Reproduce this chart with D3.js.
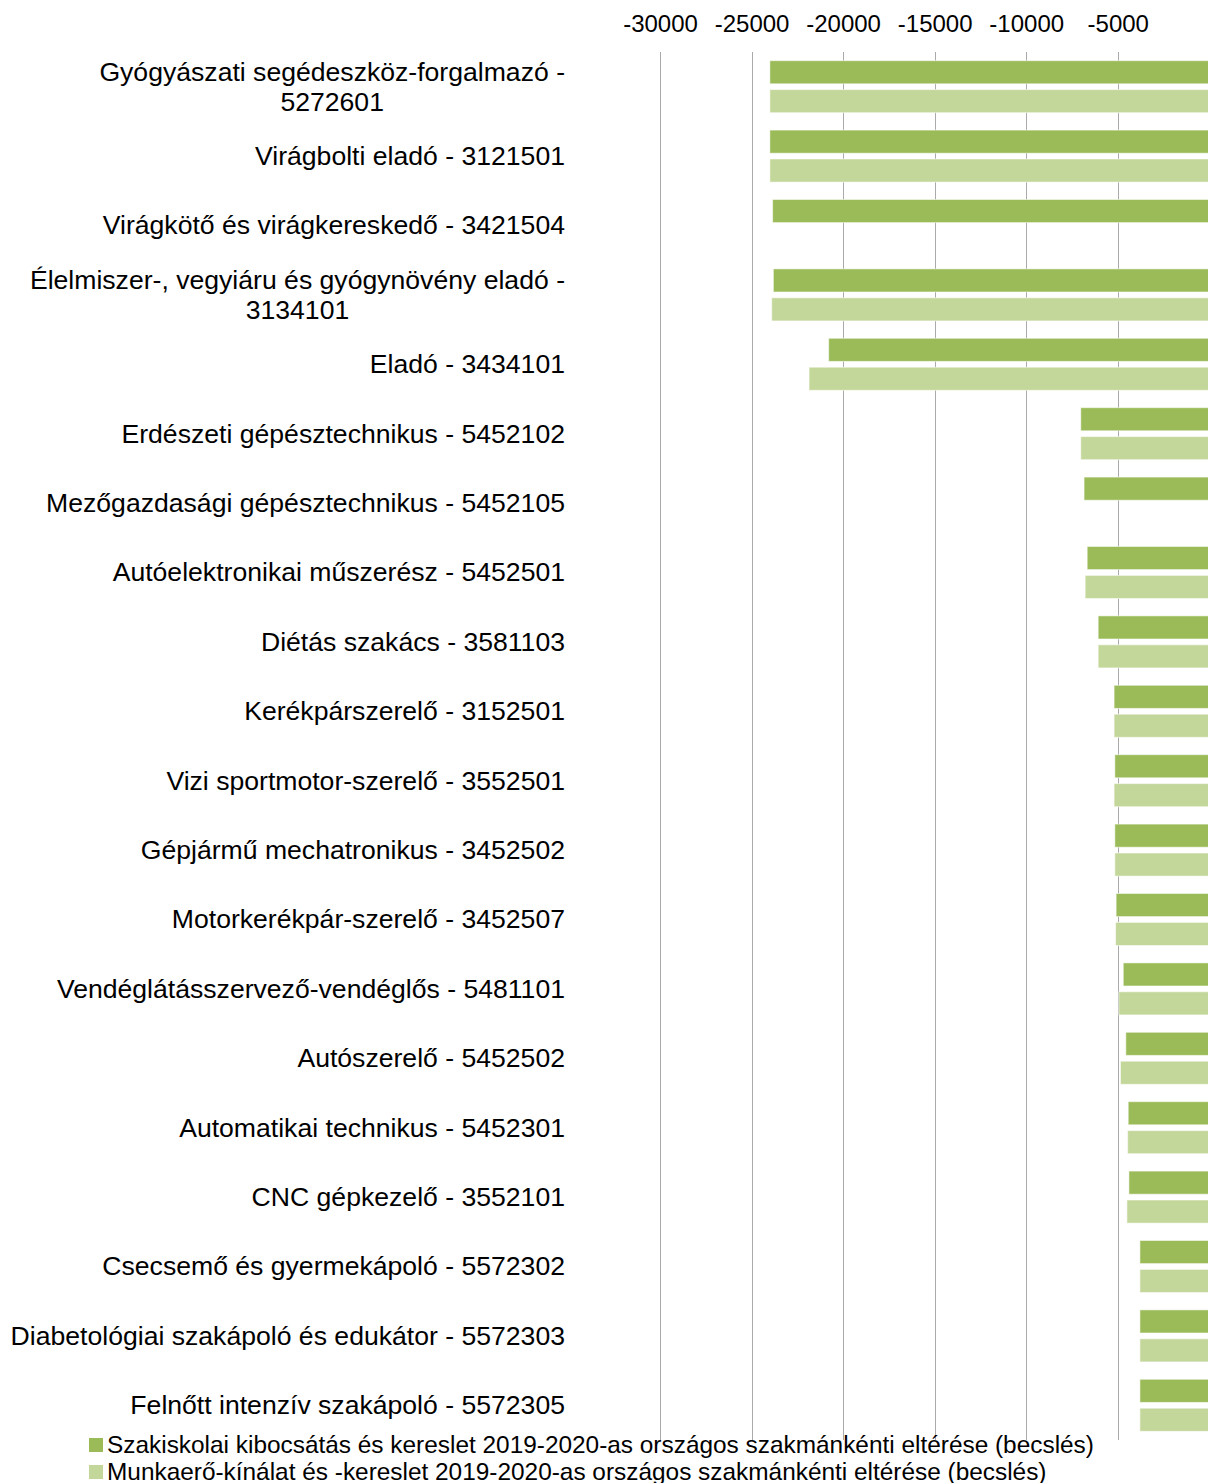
<!DOCTYPE html>
<html>
<head>
<meta charset="utf-8">
<script src="https://cdn.jsdelivr.net/npm/d3@7"></script>
<style>
  body { margin: 0; background: #fff; }
  text { font-family: "Liberation Sans", Arial, sans-serif; fill: #000; }
</style>
</head>
<body>
<div id="chart"></div>
<script>
var categories = [
  "Gyógyászati segédeszköz-forgalmazó - 5272601",
  "Virágbolti eladó - 3121501",
  "Virágkötő és virágkereskedő - 3421504",
  "Élelmiszer-, vegyiáru és gyógynövény eladó - 3134101",
  "Eladó - 3434101",
  "Erdészeti gépésztechnikus - 5452102",
  "Mezőgazdasági gépésztechnikus - 5452105",
  "Autóelektronikai műszerész - 5452501",
  "Diétás szakács - 3581103",
  "Kerékpárszerelő - 3152501",
  "Vizi sportmotor-szerelő - 3552501",
  "Gépjármű mechatronikus - 3452502",
  "Motorkerékpár-szerelő - 3452507",
  "Vendéglátásszervező-vendéglős - 5481101",
  "Autószerelő - 5452502",
  "Automatikai technikus - 5452301",
  "CNC gépkezelő - 3552101",
  "Csecsemő és gyermekápoló - 5572302",
  "Diabetológiai szakápoló és edukátor - 5572303",
  "Felnőtt intenzív szakápoló - 5572305"
];

// Szakiskolai kibocsátás és kereslet eltérése
var schoolGap = [-24000, -24000, -23850, -23810, -20790, -7020, -6840, -6670, -6070,
  -5200, -5160, -5160, -5090, -4700, -4560, -4430, -4390, -3790, -3790, -3790];
// Munkaerő-kínálat és -kereslet eltérése
var labourGap = [-24000, -24000, null, -23900, -21860, -7020, null, -6780, -6070,
  -5200, -5200, -5160, -5120, -4940, -4850, -4460, -4500, -3790, -3790, -3790];

var seriesNames = [
  "Szakiskolai kibocsátás és kereslet 2019-2020-as országos szakmánkénti eltérése (becslés)",
  "Munkaerő-kínálat és -kereslet 2019-2020-as országos szakmánkénti eltérése (becslés)"
];
var seriesColors = ["#9bbb59", "#c4d79b"];
var xTicks = [-30000, -25000, -20000, -15000, -10000, -5000];

var width = 1208, height = 1483;
var plotTop = 52, plotBottom = 1440;

var svg = d3.select("#chart").append("svg")
            .attr("width", width)
            .attr("height", height);

var x = d3.scaleLinear()
          .domain([-30000, 0])
          .range([660, 1209.3]);

var y0 = d3.scaleBand()
           .domain(categories)
           .range([plotTop, plotBottom])
           .paddingInner(0.25)
           .paddingOuter(0.125);

var y1 = d3.scaleBand()
           .domain([0, 1])
           .range([0, y0.bandwidth()])
           .paddingInner(0.2);

// gridlines
svg.append("g")
    .attr("class", "grid")
  .selectAll("line")
    .data(xTicks)
  .enter().append("line")
    .attr("x1", d => Math.round(x(d)) + 0.5)
    .attr("x2", d => Math.round(x(d)) + 0.5)
    .attr("y1", plotTop)
    .attr("y2", plotBottom)
    .attr("stroke", "#aaaaaa")
    .attr("stroke-width", 1);

// top tick labels (plain hyphen, like the original)
var xAxis = d3.axisTop(x).tickValues(xTicks).tickSize(0).tickPadding(0).tickFormat(d => String(d));
var ax = svg.append("g")
    .attr("transform", "translate(0,32)")
    .call(xAxis);
ax.select(".domain").remove();
ax.selectAll("text")
    .attr("dy", 0)
    .style("font-family", "'Liberation Sans', Arial, sans-serif")
    .style("font-size", "24px")
    .attr("fill", "#000");

// bars
var rows = categories.map((c, i) => ({ cat: c, vals: [schoolGap[i], labourGap[i]] }));

var rowG = svg.append("g")
    .attr("class", "bars")
  .selectAll("g")
    .data(rows)
  .enter().append("g")
    .attr("transform", d => "translate(0," + y0(d.cat) + ")");

rowG.selectAll("rect")
    .data(d => d.vals.map((v, k) => ({ k: k, v: v })).filter(e => e.v != null))
  .enter().append("rect")
    .attr("x", d => x(d.v))
    .attr("width", d => x(0) - x(d.v))
    .attr("y", d => y1(d.k))
    .attr("height", y1.bandwidth())
    .attr("fill", d => seriesColors[d.k])
    .attr("stroke", "rgba(255,255,255,0.55)")
    .attr("stroke-width", 1);

// category labels, wrapped like the spreadsheet did
var labelRight = 565, maxLabelW = 562;
var labels = svg.append("g")
    .attr("class", "labels")
    .style("font-size", "26.6px");

categories.forEach(function(c) {
  var cy = y0(c) + y0.bandwidth() / 2;
  var t = labels.append("text").attr("text-anchor", "middle");
  var words = c.split(" "), lines = [], cur = [];
  words.forEach(function(w) {
    cur.push(w);
    t.text(cur.join(" "));
    if (t.node().getComputedTextLength() > maxLabelW && cur.length > 1) {
      cur.pop();
      lines.push(cur.join(" "));
      cur = [w];
    }
  });
  lines.push(cur.join(" "));
  var widths = lines.map(function(l) { t.text(l); return t.node().getComputedTextLength(); });
  var w = d3.max(widths);
  t.text(null);
  var cx = labelRight - w / 2;
  var lh = 30;
  lines.forEach(function(l, i) {
    t.append("tspan")
      .attr("x", cx)
      .attr("y", cy + 8.8 + (i - (lines.length - 1) / 2) * lh)
      .text(l);
  });
});

// legend
var legend = svg.append("g")
    .attr("class", "legend")
  .selectAll("g")
    .data(seriesNames)
  .enter().append("g")
    .attr("transform", (d, i) => "translate(89," + (1438 + i * 27) + ")");

legend.append("rect")
    .attr("width", 14)
    .attr("height", 14)
    .attr("fill", (d, i) => seriesColors[i]);

legend.append("text")
    .attr("x", 18)
    .attr("y", 15)
    .style("font-size", "24.4px")
    .text(d => d);
</script>
</body>
</html>
